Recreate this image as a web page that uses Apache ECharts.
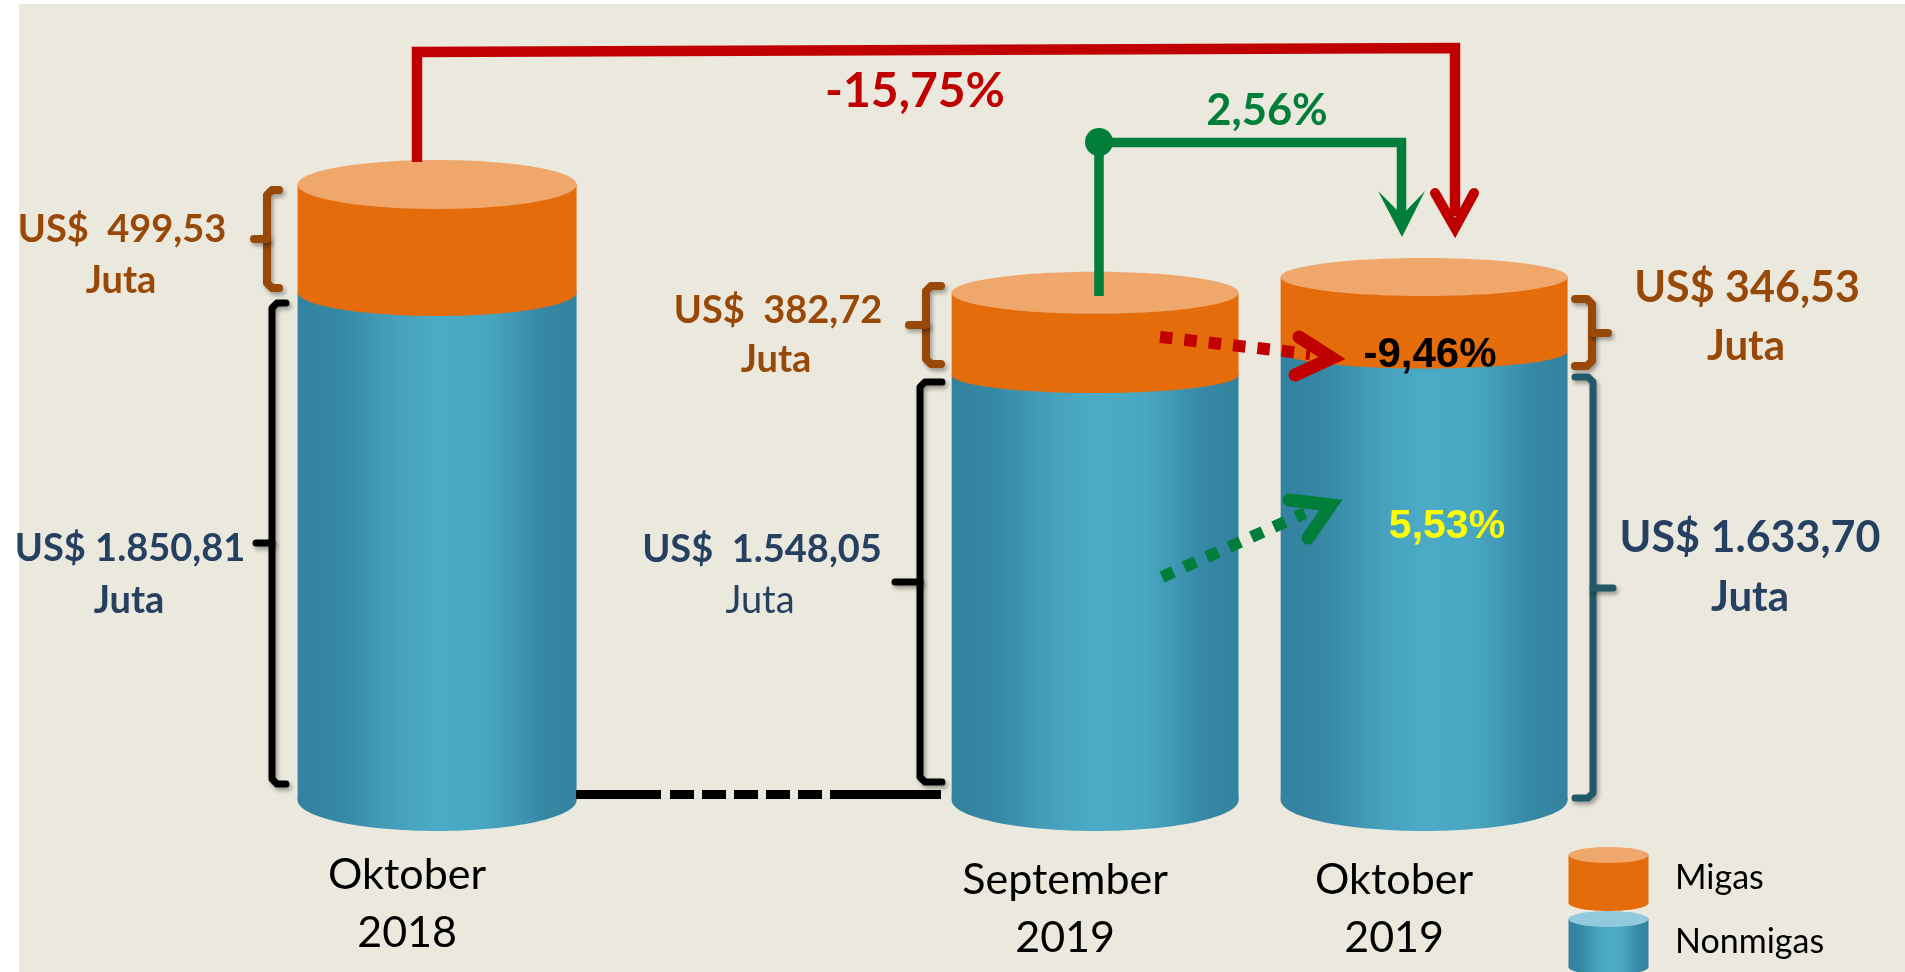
<!DOCTYPE html>
<html>
<head>
<meta charset="utf-8">
<title>Neraca ekspor</title>
<script src="https://cdn.jsdelivr.net/npm/echarts@6/dist/echarts.min.js"></script>
<style>
html, body { margin: 0; padding: 0; background: #fff; }
#main { width: 1905px; height: 972px; }
</style>
</head>
<body>
<div id="main"></div>
<script>
var categories = ['Oktober\n2018', '', 'September\n2019', 'Oktober\n2019'];
var migas = [499.53, null, 382.72, 346.53];
var nonmigas = [1850.81, null, 1548.05, 1633.70];

var migasLabels = ['US$  499,53', 'US$  382,72', 'US$ 346,53'];
var nonmigasLabels = ['US$ 1.850,81', 'US$  1.548,05', 'US$ 1.633,70'];
var unitLabel = 'Juta';
var changeLabels = { total: '-15,75%', month: '2,56%', migas: '-9,46%', nonmigas: '5,53%' };

// the source draws the migas band shorter than the nonmigas scale
var MIGAS_RATIO = 0.783;
var WIDTH_RATIO = [0.424, 0, 0.436, 0.436];
var RY_TOP = [24.5, 0, 21, 19];
var RY_MID = [24, 0, 18, 17];
var RY_BOTTOM = 31;

var BG = '#EBE8DD';
var ORANGE = '#E46C0A';
var ORANGE_TOP = '#F0A76C';
var RED = '#C00000';
var GREEN = '#007E3A';
var BROWN = '#984807';
var NAVY = '#254061';
var DARK_TEAL = '#215968';
var SANS = 'Lato';
var ARIAL = '"Liberation Sans"';

function tealFill() {
	return new echarts.graphic.LinearGradient(0, 0, 1, 0, [
		{ offset: 0, color: '#33829F' },
		{ offset: 0.14, color: '#3587A4' },
		{ offset: 0.36, color: '#46A1BD' },
		{ offset: 0.5, color: '#4BABC6' },
		{ offset: 0.68, color: '#48A6C1' },
		{ offset: 0.88, color: '#3688A5' },
		{ offset: 1, color: '#33829F' }
	]);
}

function renderCylinder(params, api) {
	var i = api.value(0);
	var base = api.coord([i, 0]);
	var rx = api.size([1, 0])[0] * WIDTH_RATIO[i];
	var nonH = api.size([0, api.value(2)])[1];
	var migH = api.size([0, api.value(1)])[1] * MIGAS_RATIO;
	var left = base[0] - rx;
	var midY = base[1] - nonH;
	var topY = midY - migH;
	var cx = base[0];
	return {
		type: 'group',
		children: [
			{ type: 'ellipse', shape: { cx: cx, cy: base[1], rx: rx, ry: RY_BOTTOM }, style: { fill: tealFill() } },
			{ type: 'rect', shape: { x: left, y: midY, width: rx * 2, height: nonH }, style: { fill: tealFill() } },
			{ type: 'ellipse', shape: { cx: cx, cy: midY, rx: rx, ry: RY_MID[i] }, style: { fill: ORANGE } },
			{ type: 'rect', shape: { x: left, y: topY, width: rx * 2, height: migH }, style: { fill: ORANGE } },
			{ type: 'ellipse', shape: { cx: cx, cy: topY, rx: rx, ry: RY_TOP[i] }, style: { fill: ORANGE_TOP } }
		]
	};
}

var SHADOW = { shadowBlur: 4, shadowOffsetX: 2, shadowOffsetY: 3, shadowColor: 'rgba(0,0,0,0.35)' };

function line(points, color, width, extra) {
	var style = { stroke: color, lineWidth: width, fill: null, lineJoin: 'miter' };
	if (extra) {
		for (var k in extra) style[k] = extra[k];
	}
	return { type: 'polyline', z: 10, silent: true, shape: { points: points }, style: style };
}

function brace(endX, spineX, top, bottom, nibX, nibY, color, width) {
	var d = endX > spineX ? 5 : -5;
	var s = { lineCap: 'round', lineJoin: 'round' };
	for (var k in SHADOW) s[k] = SHADOW[k];
	return [
		line([[endX, top], [spineX + d, top], [spineX, top + 5], [spineX, bottom - 5], [spineX + d, bottom], [endX, bottom]], color, width, s),
		line([[spineX, nibY], [nibX, nibY]], color, width, s)
	];
}

function txt(str, x, y, size, color, weight, family, align) {
	return {
		type: 'text', z: 12, silent: true, x: x, y: y,
		style: {
			text: str, fill: color,
			font: (weight || 'bold') + ' ' + size + 'px ' + (family || SANS),
			textAlign: align || 'center', textVerticalAlign: 'middle'
		}
	};
}

function legendCyl(top, bottom, ry, bodyFill, topFill) {
	var cx = 1608.5, rx = 40;
	return [
		{ type: 'ellipse', z: 5, silent: true, shape: { cx: cx, cy: bottom, rx: rx, ry: ry }, style: { fill: bodyFill } },
		{ type: 'rect', z: 5, silent: true, shape: { x: cx - rx, y: top, width: rx * 2, height: bottom - top }, style: { fill: bodyFill } },
		{ type: 'ellipse', z: 5, silent: true, shape: { cx: cx, cy: top, rx: rx, ry: ry }, style: { fill: topFill } }
	];
}

var graphics = [
	{ type: 'rect', z: -10, silent: true, shape: { x: 19, y: 4, width: 1886, height: 968 }, style: { fill: BG } },

	// hubungan antar tahun
	line([[417, 162], [417, 52], [1455, 48], [1455, 216]], RED, 10.5),
	line([[1435, 193], [1455, 228], [1474, 193]], RED, 10, { lineCap: 'round', lineJoin: 'miter' }),

	// hubungan antar bulan
	{ type: 'circle', z: 10, silent: true, shape: { cx: 1099, cy: 142, r: 14 }, style: { fill: GREEN } },
	line([[1099, 296], [1099, 142.5], [1401.5, 142.5], [1401.5, 216]], GREEN, 9.5),
	{ type: 'polygon', z: 10, silent: true, shape: { points: [[1378, 191], [1402, 237], [1425, 191], [1402, 215]] }, style: { fill: GREEN } },

	// garis dasar
	line([[576, 794.5], [661, 794.5]], '#000', 9),
	line([[670, 794.5], [845, 794.5]], '#000', 9, { lineDash: [24, 8] }),
	line([[845, 794.5], [941, 794.5]], '#000', 9),

	// panah putus-putus
	line([[1160, 337], [1310, 354]], RED, 12, { lineDash: [12.5, 12] }),
	line([[1299, 337], [1332, 358], [1295, 375]], RED, 13, { lineCap: 'round' }),
	line([[1162, 577], [1305, 513]], GREEN, 12, { lineDash: [12.5, 12] }),
	line([[1289, 500], [1331, 505], [1308, 538]], GREEN, 13, { lineCap: 'round' }),

	txt(changeLabels.total, 915, 92, 48, RED),
	txt(changeLabels.month, 1267, 111, 43.5, GREEN),
	txt(changeLabels.migas, 1430, 355, 42, '#000', 'bold', ARIAL),
	txt(changeLabels.nonmigas, 1447, 527, 41, '#FFFF00', 'bold', ARIAL),

	txt(migasLabels[0], 122, 230, 38, BROWN),
	txt(unitLabel, 121, 281, 38, BROWN),
	txt(nonmigasLabels[0], 130, 549, 38, NAVY),
	txt(unitLabel, 129, 601, 38, NAVY),

	txt(migasLabels[1], 778, 311, 38, BROWN),
	txt(unitLabel, 776, 360, 38, BROWN),
	txt(nonmigasLabels[1], 762, 550, 38, NAVY),
	txt(unitLabel, 760, 601, 38, NAVY, 'normal'),

	txt(migasLabels[2], 1747, 288, 43, BROWN),
	txt(unitLabel, 1746, 346, 42, BROWN),
	txt(nonmigasLabels[2], 1750, 538, 43, NAVY),
	txt(unitLabel, 1750, 597, 42, NAVY),

	txt('Migas', 1675, 878, 34, '#000', 'normal', SANS, 'left'),
	txt('Nonmigas', 1675, 942, 34, '#000', 'normal', SANS, 'left')
];

graphics = graphics
	.concat(brace(279, 267, 190, 288, 254, 239, BROWN, 8))
	.concat(brace(286, 272, 303, 784, 256, 543, '#000', 7))
	.concat(brace(941, 926, 286, 364, 909, 325, BROWN, 8))
	.concat(brace(942, 920, 382, 782, 895, 582, '#000', 7))
	.concat(brace(1575, 1592, 299, 366, 1608, 333, BROWN, 8))
	.concat(brace(1575, 1593, 377, 798, 1613, 588, DARK_TEAL, 7))
	.concat(legendCyl(855, 903, 8, ORANGE, ORANGE_TOP))
	.concat(legendCyl(919, 967, 8, tealFill(), '#93C9DC'));

var cylinderData = [];
for (var i = 0; i < categories.length; i++) {
	if (migas[i] !== null) cylinderData.push([i, migas[i], nonmigas[i]]);
}

var chart = echarts.init(document.getElementById('main'));
chart.setOption({
	backgroundColor: '#fff',
	animation: false,
	grid: { left: 272.6, width: 1316, top: 100, height: 700 },
	xAxis: {
		type: 'category',
		data: categories.map(function (c, i) {
			return { value: c, textStyle: { padding: [i === 0 ? 0 : 5, 60, 0, 0] } };
		}),
		axisLine: { show: false },
		axisTick: { show: false },
		axisLabel: {
			interval: 0, margin: 46, color: '#000',
			fontFamily: SANS, fontSize: 43, lineHeight: 58
		}
	},
	yAxis: { type: 'value', min: 0, max: 2550, show: false, splitLine: { show: false } },
	series: [{
		type: 'custom',
		name: 'Ekspor',
		renderItem: renderCylinder,
		encode: { x: 0, y: [1, 2] },
		data: cylinderData
	}],
	graphic: { elements: graphics }
});
</script>
</body>
</html>
